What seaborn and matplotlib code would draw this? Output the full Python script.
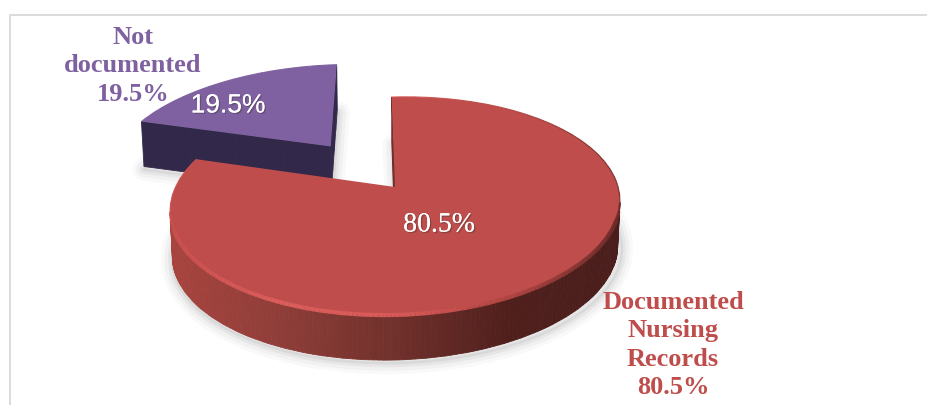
import numpy as np
import matplotlib
matplotlib.use("Agg")
import matplotlib.pyplot as plt
import matplotlib.patheffects as pe
from matplotlib.collections import LineCollection, PolyCollection
from matplotlib.transforms import Transform
import seaborn as sns

# data
categories = ["Documented\nNursing\nRecords", "Not\ndocumented"]
percent = [80.5, 19.5]
explode = [0, 0.53]

# 3D look: the pie lies on a tilted plane seen in perspective
CX, CY = 395, 187
RX, RY, TILT, SKEW = 221.5, 105.7, 0.174, 5
DEPTH = 45

RED = "#BE4D4B"
PURPLE = "#7F60A0"
RED_SIDE = sns.blend_palette(["#A8443F", "#8E3D38", "#70302B", "#4F1F1C", "#4A1E1C"], 256)
PURPLE_SIDE = sns.blend_palette(["#32284A", "#32284A"], 256)
RED_RIM = sns.blend_palette(["#C9504E", "#DC5E5C", "#D85A58", "#B04542", "#6A2A27"], 256)
PURPLE_RIM = sns.blend_palette([PURPLE, PURPLE], 256)


class Perspective(Transform):
    # maps the flat pie (unit circle) to figure pixels
    input_dims = output_dims = 2

    def transform_non_affine(self, values):
        values = np.asarray(values, dtype=float)
        w = 1 + TILT * values[:, 1]
        return np.column_stack([CX + RX * values[:, 0] / w,
                                CY - (RY * values[:, 1] + SKEW * values[:, 0]) / w])


def x_colors(palette, xs):
    pos = np.clip((xs - 170) / 452, 0, 1)
    return [palette[int(p * 255)] for p in pos]


def draw_extruded(ax, wedge, side, rim, base_z):
    persp = Perspective()
    outline = persp.transform_path(wedge.get_path()).to_polygons(closed_only=False)[0]
    apex = persp.transform(np.array([wedge.center]))[0]

    # split the outline into short segments so the shading stays smooth
    seg_a, seg_b, on_arc = [], [], []
    for a, b in zip(outline[:-1], outline[1:]):
        if np.hypot(*(b - a)) < 1e-6:
            continue
        radial = np.allclose(a, apex) or np.allclose(b, apex)
        for t in np.arange(4):
            seg_a.append(a + (b - a) * t / 4)
            seg_b.append(a + (b - a) * (t + 1) / 4)
            on_arc.append(not radial)
    seg_a, seg_b, on_arc = np.array(seg_a), np.array(seg_b), np.array(on_arc)

    # outward normal pointing down the screen means the wall is visible
    area = np.sum(outline[:-1, 0] * outline[1:, 1] - outline[1:, 0] * outline[:-1, 1])
    lengths = np.hypot(*(seg_b - seg_a).T)
    normal_y = (seg_b[:, 0] - seg_a[:, 0]) * (-np.sign(area)) / lengths
    front = normal_y > 0

    # soft shadow under the slice
    for width, alpha in [(16, 0.035), (11, 0.05), (6, 0.07), (2, 0.09)]:
        ax.plot(outline[:, 0] + 2, outline[:, 1] + DEPTH + 3, color="#606060",
                lw=width, alpha=alpha, zorder=base_z, solid_capstyle="round")

    # side wall, one thin strip per visible segment, a little narrower at the bottom
    def lower(p):
        return np.array([CX + (p[0] - CX) * 0.99, p[1] + DEPTH])

    quads = [[a, b, lower(b), lower(a)] for a, b in zip(seg_a[front], seg_b[front])]
    mids = (seg_a[:, 0] + seg_b[:, 0]) / 2
    colors = x_colors(side, mids[front])
    ax.add_collection(PolyCollection(quads, facecolors=colors, edgecolors=colors,
                                     linewidths=0.6, zorder=base_z + 0.1))

    # top face
    wedge.set_transform(persp + ax.transData)
    wedge.set_zorder(base_z + 0.2)

    # bevel along the outer arc, strong at the front and thin at the back
    segs = np.stack([seg_a[on_arc], seg_b[on_arc]], axis=1)
    widths = 0.8 + 2.2 * np.clip(normal_y[on_arc] * 2.5, 0, 1)
    ax.add_collection(LineCollection(segs, colors=x_colors(rim, mids[on_arc]),
                                     linewidths=widths, zorder=base_z + 0.3))


sns.set_theme(style="white")
plt.rcParams["font.family"] = ["Liberation Serif", "DejaVu Sans"]

fig = plt.figure(figsize=(9.28, 4.05), dpi=100)
ax = fig.add_axes([0, 0, 1, 1])

wedges, _ = ax.pie(percent, explode=explode, startangle=91, counterclock=False,
                   colors=[RED, PURPLE], wedgeprops={"linewidth": 0})

# axes in figure pixels, the pie is projected onto them
ax.set_aspect("auto")
ax.set_xlim(0, 928)
ax.set_ylim(405, 0)
ax.axis("off")

# the pulled-out slice looks a bit larger in the original
wedges[1].set_radius(1.04)

draw_extruded(ax, wedges[1], PURPLE_SIDE, PURPLE_RIM, 1)
draw_extruded(ax, wedges[0], RED_SIDE, RED_RIM, 2)

# frame of the chart area
ax.plot([10, 10, 928], [405, 14.5, 14.5], color="#D9D9D9", lw=1.3, zorder=0.5)

# category labels
ax.text(133, 66, f"{categories[1]}\n{percent[1]}%", color=PURPLE, fontsize=19,
        fontweight="bold", ha="center", va="center", linespacing=1.28, zorder=5)
ax.text(673, 345, f"{categories[0]}\n{percent[0]}%", color=RED, fontsize=19,
        fontweight="bold", ha="center", va="center", linespacing=1.28, zorder=5)

# value labels on the slices
shadow = [pe.withSimplePatchShadow(offset=(1, -1), shadow_rgbFace="#303030", alpha=0.35), pe.Normal()]
ax.text(228, 105.5, f"{percent[1]}%", color="white", fontsize=19, family="Liberation Sans",
        ha="center", va="center", path_effects=shadow, zorder=6)
ax.text(439, 225, f"{percent[0]}%", color="white", fontsize=20,
        ha="center", va="center", path_effects=shadow, zorder=6)

fig.savefig("out.png", dpi=100)
